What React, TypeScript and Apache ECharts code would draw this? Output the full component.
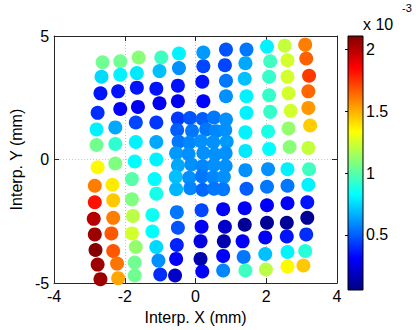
import React, { useEffect, useRef } from "react";
import * as echarts from "echarts";

// Each point: [x (mm), y (mm), value (x 1e-3)]
const colA = [
  [-2.63, 3.94, 1.05], [-2.66, 3.35, 0.75], [-2.69, 2.68, 0.35], [-2.77, 1.89, 0.4],
  [-2.8, 1.22, 0.8], [-2.8, 0.59, 1.05], [-2.77, -0.31, 1.35], [-2.85, -1.06, 1.6],
  [-2.85, -1.73, 1.82], [-2.88, -2.4, 2.0], [-2.85, -3.03, 2.05], [-2.83, -3.66, 2.1],
  [-2.77, -4.25, 2.05], [-2.69, -4.84, 2.05],
];
const colB = [
  [-2.13, 3.98, 1.05], [-2.13, 3.43, 0.8], [-2.19, 2.76, 0.35], [-2.13, 2.05, 0.3],
  [-2.27, 1.3, 0.65], [-2.27, 0.63, 0.92], [-2.27, -0.16, 1.08], [-2.35, -1.02, 1.38],
  [-2.33, -1.65, 1.45], [-2.33, -2.36, 1.6], [-2.38, -2.99, 1.68], [-2.33, -3.7, 1.68],
  [-2.22, -4.21, 1.62], [-2.19, -4.8, 1.52],
];
const colC = [
  [-1.61, 4.13, 1.1], [-1.66, 3.5, 0.78], [-1.66, 2.91, 0.35], [-1.63, 2.13, 0.28],
  [-1.69, 1.5, 0.45], [-1.69, 0.71, 0.8], [-1.72, -0.08, 0.82], [-1.8, -0.79, 1.0],
  [-1.8, -1.61, 1.08], [-1.77, -2.28, 1.2], [-1.8, -2.99, 1.25], [-1.69, -3.54, 1.12],
  [-1.72, -4.17, 1.05], [-1.72, -4.69, 1.05],
];
const colD = [
  [-0.97, 4.13, 0.95], [-1.02, 3.58, 0.7], [-1.11, 2.87, 0.35], [-1.02, 2.28, 0.28],
  [-1.11, 1.5, 0.42], [-1.11, 0.71, 0.65], [-1.11, 0.0, 0.8], [-1.16, -0.79, 0.82],
  [-1.11, -1.38, 0.87], [-1.22, -2.24, 0.85], [-1.22, -2.91, 0.83], [-1.11, -3.54, 0.75],
  [-1.05, -4.09, 0.6], [-1.0, -4.65, 0.4],
];
const colE = [
  [-0.47, 4.29, 0.8], [-0.47, 3.7, 0.6], [-0.5, 2.99, 0.35], [-0.5, 2.36, 0.28],
  [-0.53, -2.13, 0.55], [-0.5, -2.76, 0.48], [-0.53, -3.46, 0.38], [-0.55, -4.02, 0.3],
  [-0.58, -4.69, 0.2],
];
const colF = [
  [0.22, 4.33, 0.62], [0.22, 3.78, 0.45], [0.19, 3.15, 0.35], [0.22, 2.36, 0.32],
  [0.17, -2.05, 0.45], [0.17, -2.72, 0.3], [0.14, -3.31, 0.25], [0.14, -4.02, 0.15],
  [0.19, -4.53, 0.3],
];
const colG = [
  [0.86, 4.45, 0.48], [0.83, 3.82, 0.45], [0.86, 3.19, 0.55], [0.86, 2.56, 0.6],
  [0.78, -2.01, 0.3], [0.83, -2.72, 0.2], [0.8, -3.31, 0.15], [0.78, -3.9, 0.3],
  [0.78, -4.49, 0.58],
];
const colH = [
  [1.44, 4.45, 0.55], [1.41, 3.9, 0.65], [1.39, 3.27, 0.7], [1.44, 2.56, 0.8],
  [1.44, 1.89, 0.8], [1.41, 1.1, 0.8], [1.41, 0.35, 0.78], [1.41, -0.43, 0.6],
  [1.44, -1.18, 0.5], [1.39, -1.97, 0.3], [1.39, -2.64, 0.1], [1.33, -3.31, 0.3],
  [1.36, -3.94, 0.55], [1.41, -4.49, 0.95],
];
const colI = [
  [2.02, 4.57, 0.8], [2.11, 3.98, 0.95], [2.08, 3.35, 0.93], [2.08, 2.6, 0.93],
  [2.11, 1.93, 0.93], [2.05, 1.14, 0.88], [2.08, 0.43, 0.82], [2.05, -0.39, 0.6],
  [2.02, -1.1, 0.55], [2.02, -1.85, 0.3], [2.02, -2.56, 0.1], [1.97, -3.15, 0.3],
  [1.97, -3.82, 0.7], [1.99, -4.45, 1.2],
];
const colJ = [
  [2.52, 4.61, 1.22], [2.6, 4.02, 1.25], [2.6, 3.35, 1.25], [2.63, 2.68, 1.25],
  [2.69, 1.97, 1.25], [2.63, 1.26, 1.12], [2.66, 0.51, 1.1], [2.6, -0.39, 0.8],
  [2.6, -1.06, 0.55], [2.6, -1.77, 0.3], [2.58, -2.56, 0.1], [2.58, -3.11, 0.35],
  [2.6, -3.74, 0.8], [2.6, -4.33, 1.35],
];
const colK = [
  [3.1, 4.65, 1.6], [3.13, 4.09, 1.66], [3.21, 3.39, 1.74], [3.19, 2.76, 1.65],
  [3.19, 2.09, 1.55], [3.24, 1.38, 1.44], [3.19, 0.47, 1.22], [3.21, -0.39, 0.95],
  [3.19, -1.02, 0.8], [3.16, -1.73, 0.35], [3.16, -2.36, 0.1], [3.13, -3.03, 0.4],
  [3.1, -3.7, 0.9], [3.05, -4.29, 1.45],
];
// Dense central patch
const cluster = [
  [-0.5, 1.66, 0.42], [-0.16, 1.68, 0.48], [0.2, 1.64, 0.5], [0.52, 1.7, 0.55], [0.86, 1.62, 0.6],
  [-0.52, 1.2, 0.5], [-0.1, 1.16, 0.55], [0.3, 1.22, 0.55], [0.58, 1.15, 0.58], [0.84, 1.2, 0.6],
  [-0.48, 0.72, 0.55], [-0.18, 0.68, 0.58], [0.15, 0.74, 0.6], [0.5, 0.7, 0.6], [0.88, 0.72, 0.62],
  [-0.55, 0.26, 0.62], [-0.2, 0.22, 0.6], [0.22, 0.27, 0.6], [0.55, 0.2, 0.6], [0.85, 0.25, 0.6],
  [-0.5, -0.24, 0.65], [-0.12, -0.2, 0.6], [0.2, -0.27, 0.58], [0.52, -0.22, 0.6], [0.85, -0.26, 0.6],
  [-0.56, -0.7, 0.7], [-0.18, -0.74, 0.6], [0.18, -0.68, 0.55], [0.5, -0.72, 0.58], [0.8, -0.7, 0.6],
  [-0.55, -1.2, 0.68], [-0.15, -1.16, 0.58], [0.2, -1.22, 0.52], [0.52, -1.18, 0.55], [0.78, -1.2, 0.55],
];

const xTitle = "Interp. X (mm)";
const yTitle = "Interp. Y (mm)";
const colorTicks = [0.5, 1, 1.5, 2];
const cMin = 0.054;
const cMax = 2.11;
const jet = [
  "#000080", "#0000ff", "#0080ff", "#00ffff", "#80ff80",
  "#ffff00", "#ff8000", "#ff0000", "#800000",
];

const FONT = "'Liberation Sans', Arial, Helvetica, sans-serif";
const AXC = "#262626";

export default function App() {
  const ref = useRef<HTMLDivElement>(null);
  useEffect(() => {
    if (!ref.current) return;
    const chart = echarts.init(ref.current, undefined, { renderer: "svg" });
    const data = [
      ...colA, ...colB, ...colC, ...colD, ...colE, ...colF, ...colG,
      ...colH, ...colI, ...colJ, ...colK, ...cluster,
    ];
    const baseX = {
      type: "value" as const, min: -4, max: 4, interval: 2,
      axisLine: { show: true, onZero: false, lineStyle: { color: AXC, width: 1 } },
      axisTick: { show: true, inside: true, length: 5, lineStyle: { color: AXC } },
    };
    const baseY = {
      type: "value" as const, min: -5, max: 5, interval: 5,
      axisLine: { show: true, onZero: false, lineStyle: { color: AXC, width: 1 } },
      axisTick: { show: true, inside: true, length: 5, lineStyle: { color: AXC } },
    };
    const grad = new echarts.graphic.LinearGradient(
      0, 1, 0, 0,
      jet.map((c, i) => ({ offset: i / (jet.length - 1), color: c }))
    );
    chart.setOption({
      animation: false,
      backgroundColor: "#ffffff",
      textStyle: { fontFamily: FONT },
      grid: [
        { left: 48, top: 36, width: 289, height: 254 },
        { left: 348, top: 36, width: 15, height: 254 },
      ],
      xAxis: [
        {
          ...baseX, gridIndex: 0, position: "bottom",
          name: xTitle, nameLocation: "middle", nameGap: 21,
          nameTextStyle: { fontSize: 16, color: "#000", fontFamily: FONT },
          axisLabel: { fontSize: 16, color: "#000", margin: 5, fontFamily: FONT },
          splitLine: { show: true, lineStyle: { color: "#c4c4c4", type: [1, 2], width: 1 } },
        },
        {
          ...baseX, gridIndex: 0, position: "top",
          axisLabel: { show: false }, splitLine: { show: false },
        },
        {
          type: "value", gridIndex: 1, min: 0, max: 1, show: false,
        },
      ],
      yAxis: [
        {
          ...baseY, gridIndex: 0, position: "left",
          name: yTitle, nameLocation: "middle", nameGap: 24, nameRotate: 90,
          nameTextStyle: { fontSize: 16, color: "#000", fontFamily: FONT },
          axisLabel: { fontSize: 16, color: "#000", margin: 5, fontFamily: FONT },
          splitLine: { show: true, lineStyle: { color: "#c4c4c4", type: [1, 2], width: 1 } },
        },
        {
          ...baseY, gridIndex: 0, position: "right",
          axisLabel: { show: false }, splitLine: { show: false },
        },
        {
          type: "value", gridIndex: 1, min: cMin, max: cMax, position: "right",
          z: 10,
          axisLine: { show: false },
          axisTick: { show: true, inside: true, length: 3, customValues: colorTicks, lineStyle: { color: "#000" } },
          axisLabel: { show: true, customValues: colorTicks, fontSize: 16, color: "#000", margin: 3, fontFamily: FONT },
          splitLine: { show: false },
        },
      ],
      visualMap: {
        show: false, type: "continuous", min: cMin, max: cMax, dimension: 2,
        seriesIndex: 0, inRange: { color: jet },
      },
      graphic: [
        {
          type: "rect", z: 5,
          shape: { x: 348, y: 36, width: 15, height: 254 },
          style: { fill: grad, stroke: "#000", lineWidth: 1 },
        },
        {
          type: "text", x: 363, y: 24,
          style: { text: "x 10", font: `16px ${FONT}`, fill: "#000", textVerticalAlign: "middle" },
        },
        {
          type: "text", x: 402, y: 8,
          style: { text: "-3", font: `11px ${FONT}`, fill: "#000", textVerticalAlign: "middle" },
        },
      ],
      series: [
        {
          type: "scatter", xAxisIndex: 0, yAxisIndex: 0,
          symbol: "circle", symbolSize: 14,
          itemStyle: { opacity: 1, borderWidth: 0 },
          data,
        },
      ],
    });
    return () => chart.dispose();
  }, []);
  return (
    <div
      ref={ref}
      style={{ position: "absolute", left: 0, top: 0, width: 416, height: 330, background: "#fff" }}
    />
  );
}
